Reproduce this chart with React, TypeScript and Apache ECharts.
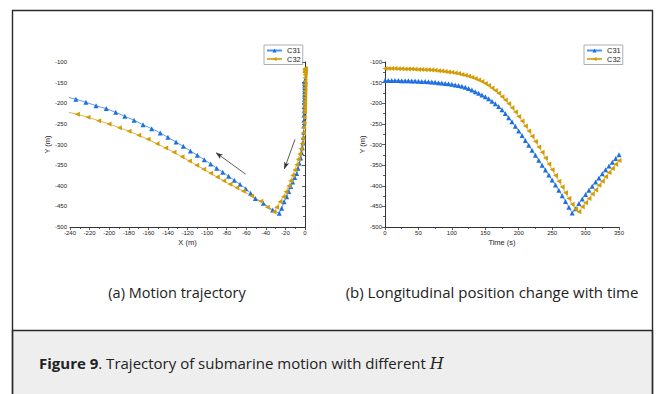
import React, { useEffect, useRef } from "react";
import * as echarts from "echarts";

// ---- Data ----
const SERIES_NAMES = ["C31", "C32"];

// (a) Motion trajectory: [X (m), Y (m)]
const TRAJ_C31: number[][] = [
  [0, -145], [0, -146], [0, -147], [0, -148], [-0.1, -150], [-0.1, -152], [-0.1, -155], [-0.2, -158],
  [-0.2, -162], [-0.3, -167], [-0.3, -172], [-0.4, -178], [-0.5, -184], [-0.6, -191], [-0.7, -199],
  [-0.8, -208], [-0.9, -218], [-1, -229], [-1.1, -241], [-1.2, -255], [-1.3, -270], [-1.5, -283],
  [-2, -295.6], [-2.7, -307.7], [-3.4, -320], [-4.4, -332.7], [-5.8, -345.6], [-7.2, -357.7],
  [-8.5, -370], [-10.5, -380], [-12.6, -391], [-14.6, -402], [-16.6, -414], [-18.7, -426.5],
  [-21.4, -439], [-23.8, -454.7], [-26.3, -466.7], [-33, -458.8], [-42.6, -442.6], [-50.7, -431],
  [-55.5, -418], [-60.5, -407], [-66.4, -396.5], [-72.2, -386.8], [-78, -377], [-84, -367],
  [-90.2, -357.7], [-96.3, -347], [-102.8, -336.8], [-110, -326], [-117, -315.7], [-124.3, -304.4],
  [-131.7, -294], [-140, -282.5], [-147.8, -272], [-156.6, -261.7], [-165.4, -252], [-174.6, -241.4],
  [-184, -231.7], [-193.3, -222], [-203, -213], [-213.4, -206], [-223.7, -197.7], [-234, -190],
  [-245, -184],
];
const TRAJ_C32: number[][] = [
  [0, -116], [0, -117], [0, -118], [0, -119], [0, -121], [0, -123], [0, -126], [-0.05, -131],
  [-0.1, -139], [-0.1, -147], [-0.2, -155], [-0.2, -163], [-0.25, -171], [-0.3, -179], [-0.35, -187],
  [-0.4, -195], [-0.45, -202], [-0.5, -209], [-0.6, -216], [-0.7, -222], [-0.8, -234], [-1.1, -247],
  [-1.4, -259], [-1.7, -272], [-2.4, -285], [-3.1, -297.5], [-4.1, -310], [-5.4, -323], [-6.8, -336],
  [-8.5, -349], [-10.5, -361.8], [-12.6, -374.6], [-14.6, -387.7], [-16.6, -400.6], [-19.4, -414.3],
  [-22.1, -426.5], [-25.5, -439], [-28.9, -452], [-31.7, -463.6], [-38.5, -452], [-45.2, -437.7],
  [-54.5, -424.8], [-63, -413.4], [-69.8, -404.6], [-76.6, -396.5], [-83, -387.7], [-89.6, -378.8],
  [-96.3, -369.8], [-103.5, -360], [-110.6, -350.4], [-118.1, -340], [-125.6, -329.5], [-133.8, -318.9],
  [-142.3, -308.5], [-151.1, -298], [-160.3, -287.4], [-169.8, -277.7], [-179.7, -268], [-189.6, -259.2],
  [-200.2, -250.3], [-210.7, -242.2], [-221.6, -234], [-232.5, -226.8], [-245, -220],
];

// (b) Longitudinal position vs time
const TIME_S = [
  0, 5, 10, 15, 20, 25, 30, 35, 40, 45, 50, 55, 60, 65, 70, 75, 80, 85, 90, 95,
  100, 105, 110, 115, 120, 125, 130, 135, 140, 145, 150, 155, 160, 165, 170, 175, 180, 185, 190, 195,
  200, 205, 210, 215, 220, 225, 230, 235, 240, 245, 250, 255, 260, 265, 270, 275, 280, 285, 290, 295,
  300, 305, 310, 315, 320, 325, 330, 335, 340, 345, 350,
];
const Y_C31 = [
  -145, -145, -145, -145, -145, -145.5, -145.5, -145.5, -146, -146, -146.5, -147, -147.5, -148, -148.5, -149, -150, -151, -152, -153,
  -154, -155.5, -157, -159, -161.5, -164.5, -168, -172, -176, -180, -184, -189, -195, -201, -208, -216, -225, -235, -245, -256,
  -267, -278, -290, -302, -314, -326, -338, -350, -362, -374, -386, -398, -411, -424, -438, -452, -466, -456, -443, -432,
  -421, -411, -401, -391, -381, -371, -361, -352, -343, -334, -325,
];
const Y_C32 = [
  -116, -116, -116, -116, -116.5, -116.5, -117, -117, -117, -117.5, -118, -118, -118.5, -119, -119.5, -120, -121, -122, -123, -124,
  -125, -126.5, -128, -130, -132, -134.5, -137, -140, -143.5, -147.5, -152, -157, -163, -169, -176, -184, -192, -201, -211, -221,
  -232, -243, -255, -267, -280, -293, -306, -319, -333, -347, -361, -375, -389, -403, -417, -431, -445, -457, -463, -451,
  -441, -431, -420, -410, -399, -389, -378, -368, -358, -348, -339,
];

// Axis settings
const X_A = { min: -240, max: 0, interval: 20 };
const X_B = { min: 0, max: 350, interval: 50 };
const Y_RANGE = { min: -500, max: -100, interval: 50 };

// Annotation arrows on (a), in data coordinates [from, to]
const ARROWS: number[][][] = [
  [[-60.6, -372], [-90.9, -319.9]],
  [[-10.2, -287.4], [-21.1, -359.4]],
];

const BLUE = "#1f6fe0";
const BLUE_LINE = "#4d92ec";
const GOLD = "#d29c06";
const GOLD_LINE = "#dcae3a";
const AXIS_FONT = "'Liberation Sans', Arial, sans-serif";
const CAP_FONT = "'Open Sans', 'Noto Sans', sans-serif";

function axisCommon() {
  return {
    axisLine: { show: true, lineStyle: { color: "#333", width: 1 } },
    axisTick: { show: true, inside: false, length: 3, lineStyle: { color: "#333", width: 0.8 } },
    minorTick: { show: true, splitNumber: 2, length: 2, lineStyle: { color: "#333", width: 0.8 } },
    splitLine: { show: false },
    axisLabel: { fontSize: 6, color: "#222", fontFamily: AXIS_FONT, margin: 3 },
    nameTextStyle: { fontSize: 7.5, color: "#222", fontFamily: AXIS_FONT },
  };
}

export default function App() {
  const ref = useRef<HTMLDivElement>(null);
  useEffect(() => {
    if (!ref.current) return;
    const chart = echarts.init(ref.current, undefined, { renderer: "svg" });
    const lineSeries = (name: string, data: any[], xi: number, color: string, lineColor: string, rot: number, extra: any = {}) => ({
      type: "line",
      name,
      xAxisIndex: xi,
      yAxisIndex: xi,
      data,
      symbol: "triangle",
      symbolSize: 5,
      symbolRotate: rot,
      showAllSymbol: true,
      itemStyle: { color },
      lineStyle: { color: lineColor, width: 0.9 },
      emphasis: { disabled: true },
      clip: true,
      ...extra,
    });
    const legendCommon = {
      orient: "vertical",
      data: SERIES_NAMES,
      padding: [1.5, 2, 1.5, 2],
      itemWidth: 15,
      itemHeight: 5,
      itemGap: 0.5,
      borderColor: "#999",
      borderWidth: 0.8,
      textStyle: { fontSize: 7.5, lineHeight: 8, color: "#222", fontFamily: AXIS_FONT },
    };
    chart.setOption({
      animation: false,
      backgroundColor: "#ffffff",
      grid: [
        { left: 70, top: 62, width: 235, height: 165 },
        { left: 385, top: 62, width: 234, height: 165 },
      ],
      xAxis: [
        { type: "value", gridIndex: 0, ...X_A, name: "X (m)", nameLocation: "middle", nameGap: 11, ...axisCommon() },
        { type: "value", gridIndex: 1, ...X_B, name: "Time (s)", nameLocation: "middle", nameGap: 11, ...axisCommon() },
      ],
      yAxis: [
        { type: "value", gridIndex: 0, ...Y_RANGE, name: "Y (m)", nameLocation: "middle", nameGap: 19, ...axisCommon() },
        { type: "value", gridIndex: 1, ...Y_RANGE, name: "Y (m)", nameLocation: "middle", nameGap: 19, ...axisCommon() },
      ],
      legend: [
        { ...legendCommon, left: 264, top: 45 },
        { ...legendCommon, left: 584, top: 45 },
      ],
      series: [
        lineSeries("C31", TRAJ_C31, 0, BLUE, BLUE_LINE, 0, {
          markLine: {
            silent: true,
            symbol: ["none", "arrow"],
            symbolSize: [4, 7],
            label: { show: false },
            emphasis: { disabled: true },
            lineStyle: { color: "#333", width: 0.8, type: "solid" },
            data: ARROWS.map((a) => [{ coord: a[0] }, { coord: a[1] }]),
          },
        }),
        lineSeries("C32", TRAJ_C32, 0, GOLD, GOLD_LINE, 90),
        lineSeries("C31", TIME_S.map((t, i) => [t, Y_C31[i]]), 1, BLUE, BLUE_LINE, 0),
        lineSeries("C32", TIME_S.map((t, i) => [t, Y_C32[i]]), 1, GOLD, GOLD_LINE, 90),
      ],
      graphic: [
        {
          type: "rect",
          silent: true,
          shape: { x: 12.5, y: 10.5, width: 640, height: 400 },
          style: { fill: "none", stroke: "#2a2a2a", lineWidth: 1.4 },
          z: 100,
        },
        {
          type: "rect",
          silent: true,
          shape: { x: 12.5, y: 330.5, width: 640, height: 80 },
          style: { fill: "#eeeeee", stroke: "#2a2a2a", lineWidth: 1.4 },
          z: 99,
        },
        {
          type: "text",
          silent: true,
          x: 177,
          y: 292,
          style: {
            text: "(a) Motion trajectory",
            fontSize: 14.5,
            fontFamily: CAP_FONT,
            fill: "#222",
            align: "center",
            verticalAlign: "middle",
          },
        },
        {
          type: "text",
          silent: true,
          x: 492,
          y: 292,
          style: {
            text: "(b) Longitudinal position change with time",
            fontSize: 15,
            fontFamily: CAP_FONT,
            fill: "#222",
            align: "center",
            verticalAlign: "middle",
          },
        },
        {
          type: "text",
          silent: true,
          x: 39,
          y: 363,
          z: 101,
          style: {
            text: "{b|Figure 9}{r|. Trajectory of submarine motion with different }{i|H}",
            verticalAlign: "middle",
            rich: {
              b: { fontSize: 15, fontWeight: "bold", fontFamily: CAP_FONT, fill: "#222" },
              r: { fontSize: 15, fontFamily: CAP_FONT, fill: "#222" },
              i: { fontSize: 16, fontStyle: "italic", fontFamily: "'DejaVu Serif', 'Liberation Serif', serif", fill: "#222" },
            },
          },
        },
      ],
    });
    return () => chart.dispose();
  }, []);
  return (
    <div
      ref={ref}
      style={{ position: "fixed", left: 0, top: 0, width: 656, height: 394, background: "#fff" }}
    />
  );
}
